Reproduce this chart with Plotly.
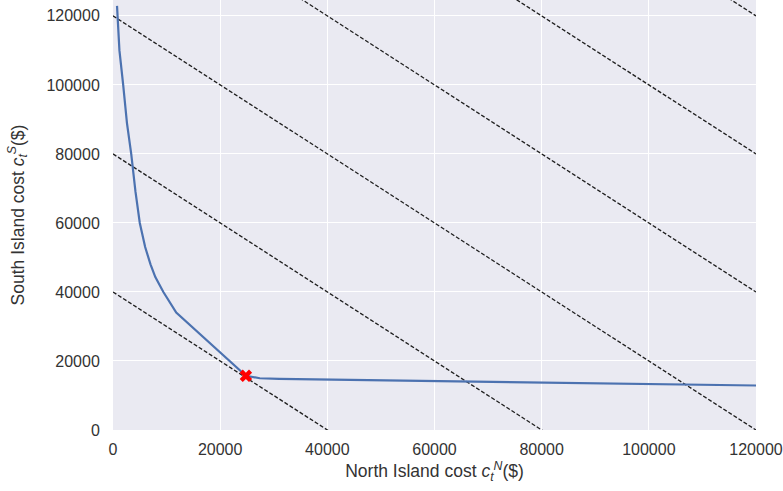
import plotly.graph_objects as go

# Frontier curve (North Island cost, South Island cost)
north_cost = [750, 1200, 1900, 2600, 3400, 4200, 5000, 6000, 7000, 7900, 9400, 11800, 24800, 27400, 31000, 40000, 60000, 80000, 100000, 120000]
south_cost = [122900, 110000, 100000, 89000, 80000, 69000, 60000, 53000, 48000, 44300, 40000, 34000, 15700, 15000, 14800, 14600, 14200, 13700, 13200, 12900]

# Optimal point
opt_north = [24800]
opt_south = [15700]

# Iso-cost lines: north + south = total
iso_totals = [40000, 80000, 120000, 160000, 200000, 240000]
iso_x = [0, 120000]

x_ticks = [0, 20000, 40000, 60000, 80000, 100000, 120000]
y_ticks = [0, 20000, 40000, 60000, 80000, 100000, 120000]

fig = go.Figure()

for tot in iso_totals:
    fig.add_trace(go.Scatter(
        x=iso_x, y=[tot - v for v in iso_x], mode="lines",
        line=dict(color="rgb(30,30,30)", width=1.3, dash="4px,2px"),
        showlegend=False, hoverinfo="skip"))

fig.add_trace(go.Scatter(
    x=north_cost, y=south_cost, mode="lines",
    line=dict(color="#4C72B0", width=2.2),
    showlegend=False))

fig.add_trace(go.Scatter(
    x=opt_north, y=opt_south, mode="markers",
    marker=dict(symbol="x", color="red", size=11, line=dict(width=0)),
    showlegend=False))

fig.update_layout(
    width=783, height=491,
    margin=dict(l=113, r=27, t=0, b=61),
    paper_bgcolor="white",
    plot_bgcolor="#EAEAF2",
    font=dict(family="Liberation Sans, Arial, sans-serif", size=16, color="#333333"),
    xaxis=dict(
        range=[0, 120000], tickvals=x_ticks, tickformat="d",
        tickfont=dict(size=16),
        showgrid=True, gridcolor="white", gridwidth=1.3,
        zeroline=False, showline=False,
        ticks="outside", ticklen=5, tickcolor="rgba(0,0,0,0)",
        title=dict(text="North Island cost <i>c</i><sub><i>t</i></sub><sup><i>N</i></sup>($)", standoff=7,
                   font=dict(size=17.5, color="#333333")),
    ),
    yaxis=dict(
        range=[0, 124600], tickvals=y_ticks, tickformat="d",
        tickfont=dict(size=16),
        showgrid=True, gridcolor="white", gridwidth=1.3,
        zeroline=False, showline=False,
        ticks="outside", ticklen=9, tickcolor="rgba(0,0,0,0)",
        title=dict(text="South Island cost <i>c</i><sub><i>t</i></sub><sup><i>S</i></sup>($)", standoff=17,
                   font=dict(size=17.5, color="#333333")),
    ),
)

fig.write_html("out.html")
